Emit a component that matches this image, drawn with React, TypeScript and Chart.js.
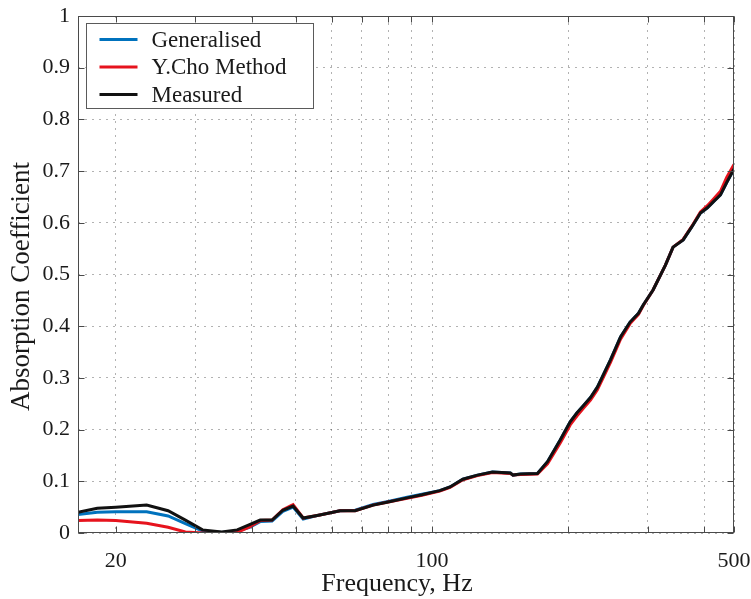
import { useEffect, useRef } from "react";
import { Chart, registerables } from "chart.js";

Chart.register(...registerables);

// Frequency axis (Hz) shared by all three series
const frequencies = [
  16.5, 18.2, 20, 23.4, 26.1, 28.5, 31.1, 34.3, 37.1, 39.5, 41.7, 44.3, 46.8,
  49.3, 51.9, 56.5, 62.6, 67.6, 74.1, 80, 88.1, 95, 104, 109.6, 117, 126, 136,
  149, 151, 157, 171, 180, 192, 202, 209, 216, 224, 232, 248, 261, 274, 286,
  293, 308, 328, 341, 359, 375, 392, 406, 420, 434, 448, 465,
];

const generalised = [
  0.036, 0.04, 0.041, 0.041, 0.033, 0.018, 0.004, 0.001, 0.004, 0.011, 0.022,
  0.023, 0.042, 0.05, 0.027, 0.035, 0.043, 0.044, 0.055, 0.061, 0.069, 0.075,
  0.082, 0.089, 0.104, 0.112, 0.118, 0.116, 0.112, 0.114, 0.115, 0.138, 0.18,
  0.215, 0.232, 0.246, 0.262, 0.282, 0.335, 0.379, 0.408, 0.425, 0.441, 0.47,
  0.518, 0.553, 0.567, 0.592, 0.619, 0.629, 0.642, 0.654, 0.678, 0.704,
];

const yChoMethod = [
  0.024, 0.025, 0.024, 0.019, 0.011, 0.002, 0.0, 0.0, 0.001, 0.012, 0.024,
  0.025, 0.045, 0.055, 0.029, 0.035, 0.043, 0.043, 0.054, 0.06, 0.067, 0.073,
  0.081, 0.088, 0.103, 0.111, 0.117, 0.115, 0.112, 0.113, 0.114, 0.134, 0.174,
  0.209, 0.226, 0.241, 0.257, 0.277, 0.33, 0.375, 0.405, 0.423, 0.44, 0.47,
  0.518, 0.553, 0.568, 0.593, 0.621, 0.633, 0.647, 0.661, 0.688, 0.713,
];

const measured = [
  0.04, 0.048, 0.05, 0.054, 0.043, 0.025, 0.006, 0.002, 0.006, 0.016, 0.025,
  0.025, 0.044, 0.052, 0.029, 0.035, 0.043, 0.043, 0.054, 0.06, 0.068, 0.074,
  0.082, 0.089, 0.104, 0.112, 0.118, 0.116, 0.112, 0.114, 0.115, 0.138, 0.18,
  0.215, 0.232, 0.246, 0.262, 0.282, 0.335, 0.379, 0.408, 0.425, 0.441, 0.47,
  0.518, 0.553, 0.567, 0.592, 0.619, 0.629, 0.642, 0.654, 0.678, 0.704,
];

const seriesLabels = ["Generalised", "Y.Cho Method", "Measured"];
const seriesColors = ["#0072bd", "#e6131d", "#111111"];

// Axis range, ticks and titles
const X_MIN = 16.5;
const X_MAX = 465;
const xGridValues = [20, 30, 40, 50, 60, 70, 80, 90, 100, 200, 300, 400, X_MAX];
const xLabelValues = [20, 100, X_MAX];
const xTickLabels = ["20", "100", "500"];
const xTitle = "Frequency, Hz";
const yTitle = "Absorption Coefficient";

const FONT = "'Liberation Serif', 'Times New Roman', serif";
const INK = "#1a1a1a";
const GRID = "rgba(0,0,0,0.3)";

const frameLegendPlugin = {
  id: "frameLegend",
  afterDraw(chart: any) {
    const { ctx, chartArea: a, scales } = chart;
    ctx.save();

    // axes box
    ctx.strokeStyle = "#4a4a4a";
    ctx.lineWidth = 1;
    const L = Math.round(a.left) + 0.5;
    const T = Math.round(a.top) + 0.5;
    const R = Math.round(a.right) - 0.5;
    const B = Math.round(a.bottom) - 0.5;
    ctx.strokeRect(L, T, R - L, B - T);

    // inward tick marks
    const tl = 6;
    ctx.beginPath();
    for (const v of xGridValues) {
      const px = Math.round(scales.x.getPixelForValue(v)) + 0.5;
      ctx.moveTo(px, B);
      ctx.lineTo(px, B - tl);
      ctx.moveTo(px, T);
      ctx.lineTo(px, T + tl);
    }
    for (const t of scales.y.ticks) {
      const py = Math.round(scales.y.getPixelForValue(t.value)) + 0.5;
      ctx.moveTo(L, py);
      ctx.lineTo(L + tl, py);
      ctx.moveTo(R, py);
      ctx.lineTo(R - tl, py);
    }
    ctx.stroke();

    // axis titles
    ctx.fillStyle = INK;
    ctx.textAlign = "center";
    ctx.textBaseline = "middle";
    ctx.font = `26px ${FONT}`;
    ctx.fillText(xTitle, (a.left + a.right) / 2 - 9, 584.5);
    ctx.save();
    ctx.translate(22, (a.top + a.bottom) / 2 + 12);
    ctx.rotate(-Math.PI / 2);
    ctx.font = `27px ${FONT}`;
    ctx.fillText(yTitle, 0, 0);
    ctx.restore();

    // legend box
    const bx = Math.round(a.left) + 8.5;
    const by = Math.round(a.top) + 7.5;
    const bw = 227;
    const bh = 85;
    ctx.fillStyle = "#ffffff";
    ctx.fillRect(bx, by, bw, bh);
    ctx.strokeStyle = "#5a5a5a";
    ctx.lineWidth = 1;
    ctx.strokeRect(bx, by, bw, bh);

    ctx.font = `23px ${FONT}`;
    ctx.textBaseline = "middle";
    ctx.textAlign = "left";
    chart.data.datasets.forEach((ds: any, i: number) => {
      const ry = by + 16 + i * 27.5;
      ctx.strokeStyle = ds.borderColor;
      ctx.lineWidth = 3;
      ctx.beginPath();
      ctx.moveTo(bx + 13, ry);
      ctx.lineTo(bx + 51, ry);
      ctx.stroke();
      ctx.fillStyle = INK;
      ctx.fillText(ds.label, bx + 65, ry + 1);
    });

    ctx.restore();
  },
};

export default function App() {
  const canvasRef = useRef<HTMLCanvasElement | null>(null);

  useEffect(() => {
    if (!canvasRef.current) return;
    const seriesValues = [generalised, yChoMethod, measured];
    const datasets = seriesLabels.map((label, i) => ({
      label,
      data: frequencies.map((f, j) => ({ x: f, y: seriesValues[i][j] })),
      borderColor: seriesColors[i],
      backgroundColor: seriesColors[i],
      borderWidth: 3,
      pointRadius: 0,
      tension: 0,
      fill: false,
      order: 3 - i,
    }));

    const chart = new Chart(canvasRef.current, {
      type: "line",
      data: { datasets },
      plugins: [frameLegendPlugin],
      options: {
        responsive: false,
        animation: false,
        layout: { padding: { top: 16, right: 17, left: 0, bottom: 0 } },
        plugins: {
          legend: { display: false },
          tooltip: { enabled: false },
          title: { display: false },
        },
        scales: {
          x: {
            type: "logarithmic",
            min: X_MIN,
            max: X_MAX,
            bounds: "data",
            afterBuildTicks: (scale: any) => {
              scale.ticks = xGridValues.map((v) => ({ value: v }));
            },
            afterFit: (scale: any) => {
              scale.height = 66;
              scale.paddingLeft = 0;
              scale.paddingRight = 0;
            },
            grid: { color: GRID, lineWidth: 1, drawTicks: false },
            border: { display: false, dash: [2, 5] },
            ticks: {
              autoSkip: false,
              maxRotation: 0,
              minRotation: 0,
              padding: 15,
              color: INK,
              font: { family: FONT, size: 22 },
              callback: (value: any) => {
                const k = xLabelValues.indexOf(Number(value));
                return k >= 0 ? xTickLabels[k] : "";
              },
            },
            title: { display: false },
          },
          y: {
            type: "linear",
            min: 0,
            max: 1,
            afterFit: (scale: any) => {
              scale.width = 78;
              scale.paddingTop = 0;
              scale.paddingBottom = 0;
            },
            grid: { color: GRID, lineWidth: 1, drawTicks: false },
            border: { display: false, dash: [2, 5] },
            ticks: {
              stepSize: 0.1,
              padding: 8,
              color: INK,
              font: { family: FONT, size: 22 },
              callback: (value: any) => {
                const v = Number(value);
                if (Math.abs(v) < 1e-9) return "0";
                if (Math.abs(v - 1) < 1e-9) return "1";
                return v.toFixed(1);
              },
            },
            title: { display: false },
          },
        },
      },
    });

    return () => chart.destroy();
  }, []);

  return (
    <div
      style={{
        position: "fixed",
        left: 0,
        top: 0,
        width: 751,
        height: 599,
        background: "#ffffff",
      }}
    >
      <canvas ref={canvasRef} width={751} height={599} style={{ display: "block" }} />
    </div>
  );
}
